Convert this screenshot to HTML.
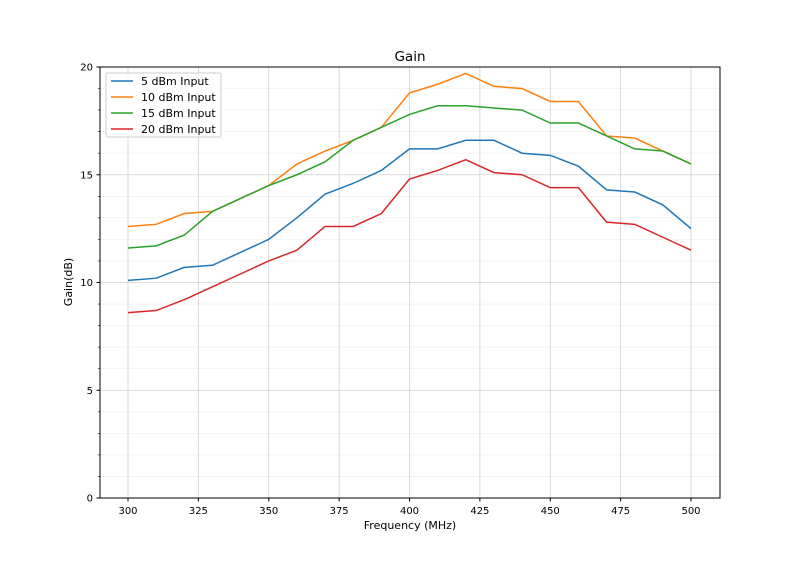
<!DOCTYPE html>
<html><head><meta charset="utf-8"><style>
body{margin:0;background:#fff}
svg text{font-family:"DejaVu Sans","Liberation Sans",sans-serif;fill:#000}
</style></head><body>
<svg id="s" width="800" height="560" xmlns="http://www.w3.org/2000/svg">
<rect width="800" height="560" fill="#fff"/>
<g id="grid"></g>
<g id="lines"></g>
<rect x="100" y="67" width="620" height="431" fill="none" stroke="#000" stroke-width="1"/>
<g id="ticks"></g>
<text x="410" y="61" font-size="13.5" text-anchor="middle">Gain</text>
<text x="410" y="529" font-size="11" text-anchor="middle">Frequency (MHz)</text>
<text transform="translate(72,282) rotate(-90)" font-size="11" text-anchor="middle">Gain(dB)</text>
<g>
<rect x="106" y="73" width="115" height="64" fill="#fff" fill-opacity="0.8" stroke="#ccc" rx="2"/>
<line x1="111" x2="133" y1="81" y2="81" stroke="#1f77b4" stroke-width="1.5"/><text x="141" y="85" font-size="11">5 dBm Input</text>
<line x1="111" x2="133" y1="97" y2="97" stroke="#ff7f0e" stroke-width="1.5"/><text x="141" y="101" font-size="11">10 dBm Input</text>
<line x1="111" x2="133" y1="113" y2="113" stroke="#2ca02c" stroke-width="1.5"/><text x="141" y="117" font-size="11">15 dBm Input</text>
<line x1="111" x2="133" y1="129" y2="129" stroke="#d62728" stroke-width="1.5"/><text x="141" y="133" font-size="11">20 dBm Input</text>
</g>
</svg>
<script>
const X=f=>128+(f-300)*2.815, Y=v=>498-v*21.55;
const NS="http://www.w3.org/2000/svg";
function el(p,t,a,txt){const e=document.createElementNS(NS,t);for(const k in a)e.setAttribute(k,a[k]);if(txt!==undefined)e.textContent=txt;document.getElementById(p).appendChild(e);}
for(let v=0;v<=20;v++){const y=Y(v);el("grid","line",{x1:100,x2:720,y1:y,y2:y,stroke:v%5?"#eee":"#d0d0d0","stroke-width":v%5?0.6:0.8});}
for(let f=300;f<=500;f+=25){const x=X(f);el("grid","line",{x1:x,x2:x,y1:67,y2:498,stroke:"#d0d0d0","stroke-width":0.8});
el("ticks","line",{x1:x,x2:x,y1:498,y2:501.5,stroke:"#000"});el("ticks","text",{x:x,y:514,"font-size":10,"text-anchor":"middle"},f);}
for(let v=0;v<=20;v++){const y=Y(v);el("ticks","line",{x1:100,x2:v%5?98:96.5,y1:y,y2:y,stroke:"#000","stroke-width":v%5?0.6:1});
if(v%5==0)el("ticks","text",{x:93,y:y+3.5,"font-size":10,"text-anchor":"end"},v);}
const D={"#1f77b4":[10.1,10.2,10.7,10.8,11.4,12.0,13.0,14.1,14.6,15.2,16.2,16.2,16.6,16.6,16.0,15.9,15.4,14.3,14.2,13.6,12.5],
"#ff7f0e":[12.6,12.7,13.2,13.3,13.9,14.5,15.5,16.1,16.6,17.2,18.8,19.2,19.7,19.1,19.0,18.4,18.4,16.8,16.7,16.1,15.5],
"#2ca02c":[11.6,11.7,12.2,13.3,13.9,14.5,15.0,15.6,16.6,17.2,17.8,18.2,18.2,18.1,18.0,17.4,17.4,16.8,16.2,16.1,15.5],
"#d62728":[8.6,8.7,9.2,9.8,10.4,11.0,11.5,12.6,12.6,13.2,14.8,15.2,15.7,15.1,15.0,14.4,14.4,12.8,12.7,12.1,11.5]};
for(const c in D){el("lines","polyline",{points:D[c].map((v,i)=>X(300+10*i)+","+Y(v)).join(" "),fill:"none",stroke:c,"stroke-width":1.5});}
</script>
</body></html>
